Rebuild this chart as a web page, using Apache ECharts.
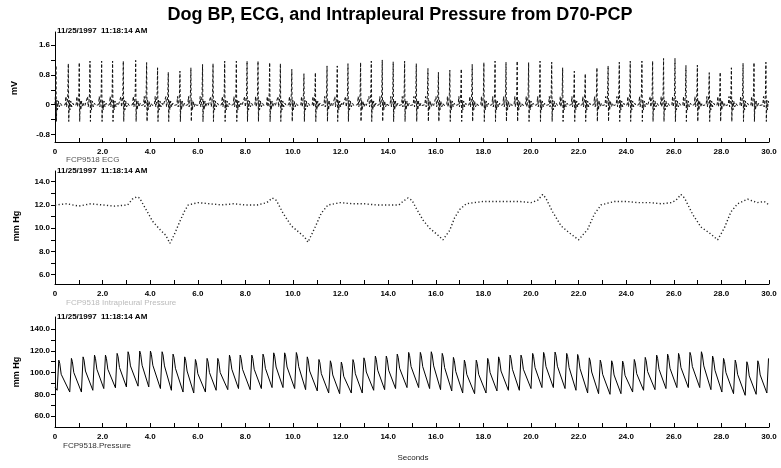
<!DOCTYPE html>
<html><head><meta charset="utf-8">
<script src="https://cdn.jsdelivr.net/npm/echarts@6/dist/echarts.min.js"></script>
<style>html,body{margin:0;padding:0;background:#fff}#c{width:781px;height:468px}</style>
</head><body><div id="c"></div>
<script>
// ---------- data ----------
const xTicks = [0,1,2,3,4,5,6,7,8,9,10,11,12,13,14,15,16,17,18,19,20,21,22,23,24,25,26,27,28,29,30];
const xLabels = [0,2,4,6,8,10,12,14,16,18,20,22,24,26,28,30];

// ECG (mV): R-peak times (s) and R amplitudes
const ecgBeatTimes = [0.04,0.56,1.02,1.47,1.96,2.42,2.87,3.39,3.85,4.31,4.76,5.25,5.71,6.20,6.64,7.13,7.62,8.07,8.53,9.02,9.47,
  9.95,10.46,10.94,11.43,11.86,12.31,12.84,13.29,13.75,14.21,14.69,15.18,15.67,16.11,16.59,17.07,17.53,18.02,18.49,18.95,19.42,19.90,
  20.38,20.87,21.33,21.82,22.28,22.77,23.24,23.71,24.17,24.66,25.11,25.57,26.05,26.51,26.99,27.49,27.95,28.42,28.91,29.37,29.87];
const ecgRPeaks = [1.05,1.10,1.13,1.17,1.17,1.17,1.17,1.19,1.13,0.99,0.87,0.90,0.99,1.08,1.10,1.17,1.17,1.17,1.17,1.13,1.10,
  0.95,0.83,0.86,1.04,1.04,1.10,1.13,1.17,1.20,1.15,1.17,1.10,0.97,0.87,0.93,0.96,1.08,1.13,1.17,1.14,1.17,1.13,
  1.17,1.14,0.99,0.90,0.83,0.99,1.04,1.14,1.17,1.17,1.17,1.24,1.24,1.05,1.06,0.86,0.87,0.99,1.11,1.13,1.14];
// shape of one ECG complex around the R peak (offset s, value mV; null = R peak)
const ecgShapeOffsets = [-0.13,-0.10,-0.075,-0.05,-0.02,0,0.018,0.04,0.065,0.10,0.14,0.19,0.24];
const ecgShapeValues  = [0.0,0.22,-0.06,0.04,0.28,null,-0.45,0.12,-0.14,0.10,-0.06,0.04,-0.02];
const ecgYLabels = [-0.8,0,0.8,1.6];
const ecgYTicks = [-0.8,-0.4,0,0.4,0.8,1.2,1.6];

// Intrapleural pressure (mm Hg)
const pleuralTimes = [0,0.5,1.0,1.5,2.0,2.5,3.05,3.25,3.43,3.55,3.8,4.1,4.4,4.65,4.83,5.0,5.25,5.45,5.6,6.0,6.5,7.0,7.5,8.0,8.5,8.9,
  9.13,9.3,9.58,9.93,10.28,10.5,10.63,10.91,11.19,11.47,12.0,12.5,13.0,13.5,14.0,14.45,14.62,14.83,15.0,15.18,15.46,15.74,16.09,16.3,
  16.58,16.79,17.0,17.28,17.6,18.0,18.5,19.0,19.5,20.0,20.28,20.49,20.62,20.91,21.26,21.61,22.0,22.38,22.66,22.94,23.5,24.0,24.5,
  25.0,25.5,25.9,26.09,26.3,26.45,26.79,27.14,27.49,27.84,28.12,28.4,28.68,29.1,29.5,29.8,30.0];
const pleuralValues = [12.0,12.1,11.9,12.1,12.0,11.9,12.0,12.5,12.7,12.6,11.7,10.6,9.9,9.4,8.7,9.4,10.6,11.5,12.0,12.2,12.1,12.0,12.1,12.0,12.0,12.2,
  12.6,12.4,11.3,10.2,9.6,9.2,8.8,10.0,11.3,12.0,12.2,12.1,12.1,12.0,12.0,12.0,12.3,12.6,12.4,11.7,10.7,10.0,9.4,9.0,
  9.8,10.9,11.6,12.1,12.2,12.3,12.3,12.3,12.3,12.2,12.4,12.9,12.6,11.4,10.2,9.6,9.0,9.9,11.2,12.0,12.3,12.3,12.2,
  12.2,12.1,12.2,12.4,12.9,12.6,11.2,10.1,9.6,9.0,10.0,11.4,12.1,12.5,12.2,12.3,12.0];
const pleuralYLabels = [6,8,10,12,14];
const pleuralYTicks = [6,7,8,9,10,11,12,13,14];

// Blood pressure (mm Hg): systolic peak times, peaks, preceding troughs
const bpPeakTimes = [0.16,0.69,1.18,1.66,2.12,2.61,3.07,3.56,4.01,4.50,4.96,5.45,5.90,6.39,6.84,7.33,7.78,8.27,
  8.74,9.19,9.65,10.14,10.60,11.09,11.57,12.03,12.52,12.98,13.46,13.92,14.38,14.86,15.35,15.81,16.27,16.74,17.20,17.70,18.18,18.64,19.12,
  19.58,20.07,20.53,21.01,21.50,21.96,22.45,22.91,23.39,23.85,24.34,24.80,25.28,25.74,26.20,26.68,27.16,27.63,28.09,28.58,29.07,29.53,29.98];
const bpPeaks = [111.4,113.0,114.4,116.0,116.0,117.6,119.1,119.7,119.7,119.1,116.9,114.4,112.0,113.0,113.0,116.0,116.0,116.0,
  116.9,118.1,118.1,118.4,114.4,112.0,110.8,109.6,111.9,113.5,115.1,115.1,116.9,118.5,118.5,119.1,117.6,113.9,111.4,111.4,113.0,114.4,116.0,
  116.0,117.6,118.5,118.8,117.6,116.6,113.5,111.4,110.8,110.5,112.0,113.9,116.0,116.9,117.6,118.5,119.1,115.1,113.0,111.4,109.9,110.8,113.0];
const bpTroughs = [83.7,82.1,82.1,83.7,85.3,86.0,86.8,87.5,86.8,85.3,83.7,82.1,81.2,82.1,83.7,84.3,85.3,84.3,
  85.3,86.2,86.2,85.3,84.3,83.1,81.2,80.6,81.2,81.2,83.7,84.3,85.3,86.2,86.2,85.3,84.3,83.1,81.2,80.6,81.2,83.1,83.7,
  83.7,85.3,86.2,86.2,85.3,83.7,81.2,80.6,80.0,80.6,82.1,83.7,84.3,85.3,86.2,86.2,86.2,84.3,82.1,80.6,79.1,80.0,81.2];
const bpStart = 86.5;
const bpUpstrokeLead = 0.07;
const bpShapeOffsets = [0.04,0.10,0.14];
const bpShapeDrops = [3,13,12];
const bpYLabels = [60,80,100,120,140];
const bpYTicks = [60,70,80,90,100,110,120,130,140];

const titleText = 'Dog BP, ECG, and Intrapleural Pressure from D70-PCP';
const dateText = '11/25/1997  11:18:14 AM';

// ---------- build series ----------
function buildEcg(){
  const pts = [[0,0]];
  ecgBeatTimes.forEach((t,i)=>{
    ecgShapeOffsets.forEach((o,k)=>{
      const v = ecgShapeValues[k]===null ? ecgRPeaks[i] : ecgShapeValues[k];
      const x = +(t+o).toFixed(3);
      if (x>0 && x<=30) pts.push([x,v]);
    });
  });
  pts.push([30,0]);
  return pts;
}
function buildBp(){
  const pts = [[0,bpStart]];
  bpPeakTimes.forEach((t,i)=>{
    pts.push([+(t-bpUpstrokeLead).toFixed(3), bpTroughs[i]]);
    pts.push([t, bpPeaks[i]]);
    bpShapeOffsets.forEach((o,k)=>{ const x=+(t+o).toFixed(3); if(x<=30) pts.push([x, bpPeaks[i]-bpShapeDrops[k]]); });
  });
  return pts;
}
const pleural = pleuralTimes.map((t,i)=>[t,pleuralValues[i]]);

// ---------- chart ----------
const FONT = '"Liberation Sans", Arial, sans-serif';
const grids = [
  {left:55, width:714, top:32, height:110},
  {left:55, width:714, top:171, height:113},
  {left:55, width:714, top:317, height:110}
];
function xAx(gi){
  return {type:'value', gridIndex:gi, min:0, max:30,
    axisLine:{show:true, onZero:false, lineStyle:{color:'#000', width:1}},
    axisTick:{show:true, inside:true, length:4, customValues:xTicks, lineStyle:{color:'#000'}},
    axisLabel:{customValues:xLabels, formatter:v=> v===0?'0':v.toFixed(1), color:'#000', fontSize:8, fontWeight:'bold', fontFamily:FONT, margin:6},
    splitLine:{show:false}};
}
function yAx(gi,min,max,labels,ticks,fmt){
  return {type:'value', gridIndex:gi, min:min, max:max,
    axisLine:{show:true, lineStyle:{color:'#000', width:1}},
    axisTick:{show:true, length:4, customValues:ticks, lineStyle:{color:'#000'}},
    axisLabel:{customValues:labels, formatter:fmt, color:'#000', fontSize:8, fontWeight:'bold', fontFamily:FONT, margin:5},
    splitLine:{show:false}};
}
function txt(x,y,text,opts){
  return Object.assign({type:'text', x:x, y:y, silent:true,
    style:Object.assign({text:text, fill:'#000', font:'bold 8px '+FONT, align:'left', verticalAlign:'middle',
      textAlign:'left', textVerticalAlign:'middle'}, opts && opts.style || {})}, opts && opts.el || {});
}
const chart = echarts.init(document.getElementById('c'));
chart.setOption({
  animation:false,
  backgroundColor:'#fff',
  grid:grids,
  xAxis:[xAx(0),xAx(1),xAx(2)],
  yAxis:[
    yAx(0,-1.0,1.95,ecgYLabels,ecgYTicks,v=> v===0?'0':v.toFixed(1)),
    yAx(1,5.2,14.92,pleuralYLabels,pleuralYTicks,v=>v.toFixed(1)),
    yAx(2,50,151,bpYLabels,bpYTicks,v=>v.toFixed(1))
  ],
  series:[
    {type:'line', xAxisIndex:0, yAxisIndex:0, data:buildEcg(), showSymbol:false, symbol:'none',
      lineStyle:{color:'#111', width:1, type:[3,2]}},
    {type:'line', xAxisIndex:1, yAxisIndex:1, data:pleural, showSymbol:false, symbol:'none',
      lineStyle:{color:'#222', width:1.4, type:[1.2,2.3]}},
    {type:'line', xAxisIndex:2, yAxisIndex:2, data:buildBp(), showSymbol:false, symbol:'none',
      lineStyle:{color:'#000', width:1}}
  ],
  graphic:[
    txt(400,15,titleText,{style:{font:'bold 18px '+FONT, align:'center', textAlign:'center'}}),
    txt(57,31,dateText),
    txt(57,171,dateText),
    txt(57,317,dateText),
    txt(15,88,'mV',{el:{rotation:Math.PI/2}, style:{align:'center', textAlign:'center', font:'bold 9px '+FONT}}),
    txt(17,226,'mm Hg',{el:{rotation:Math.PI/2}, style:{align:'center', textAlign:'center', font:'bold 9px '+FONT}}),
    txt(17,372,'mm Hg',{el:{rotation:Math.PI/2}, style:{align:'center', textAlign:'center', font:'bold 9px '+FONT}}),
    txt(66,160,'FCP9518 ECG',{style:{font:'8px '+FONT, fill:'#555'}}),
    txt(66,303,'FCP9518 Intrapleural Pressure',{style:{font:'8px '+FONT, fill:'#bbb'}}),
    txt(63,446,'FCP9518.Pressure',{style:{font:'8px '+FONT, fill:'#333'}}),
    txt(413,458,'Seconds',{style:{font:'8px '+FONT, fill:'#222', align:'center', textAlign:'center'}})
  ]
});
</script></body></html>
